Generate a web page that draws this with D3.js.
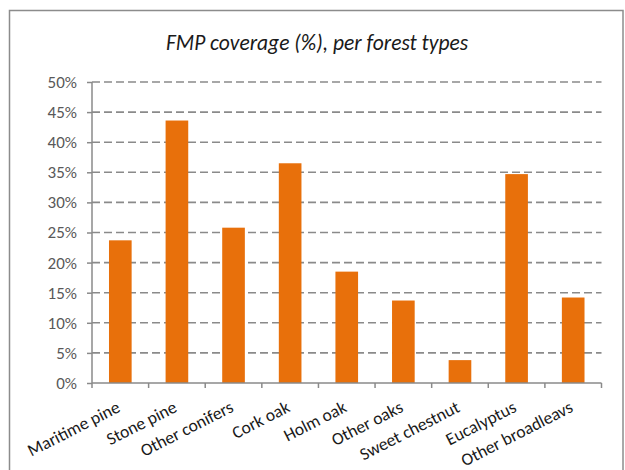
<!DOCTYPE html>
<html>
<head>
<meta charset="utf-8">
<script src="https://cdn.jsdelivr.net/npm/d3@7"></script>
<style>
  html, body { margin: 0; padding: 0; background: #fff; }
  svg { display: block; }
</style>
</head>
<body>
<svg id="chart" width="625" height="470"></svg>
<script>
const categories = ["Maritime pine", "Stone pine", "Other conifers", "Cork oak", "Holm oak", "Other oaks", "Sweet chestnut", "Eucalyptus", "Other broadleavs"];
const values = [23.7, 43.6, 25.8, 36.5, 18.5, 13.7, 3.8, 34.7, 14.2];
const yTicks = [0, 5, 10, 15, 20, 25, 30, 35, 40, 45, 50];
const title = "FMP coverage (%), per forest types";

const svg = d3.select("#chart");
const W = 625, H = 470;
const margin = { left: 92, right: 23.5, top: 82, bottom: 87 };
const x0 = margin.left, x1 = W - margin.right;
const yTop = margin.top, yBot = H - margin.bottom;

const font = "Carlito, Lato, 'Open Sans', sans-serif";

// outer border
svg.append("rect")
  .attr("x", 9.5).attr("y", 10.5)
  .attr("width", 613.5).attr("height", 470)
  .attr("fill", "#fff")
  .attr("stroke", "#8c8c8c").attr("stroke-width", 1.5);

// title
svg.append("text")
  .attr("x", 317).attr("y", 50)
  .attr("text-anchor", "middle")
  .attr("font-family", font)
  .attr("font-style", "italic")
  .attr("font-size", 21.5)
  .attr("fill", "#1a1a1a")
  .text(title);

const x = d3.scaleBand().domain(categories).range([x0, x1]).paddingInner(0.6).paddingOuter(0.3);
const y = d3.scaleLinear().domain([0, 50]).range([yBot, yTop]);

// gridlines
svg.append("g").selectAll("line")
  .data(yTicks.filter(d => d > 0))
  .join("line")
  .attr("x1", x0).attr("x2", x1)
  .attr("y1", d => y(d)).attr("y2", d => y(d))
  .attr("stroke", "#8a8a8a").attr("stroke-width", 1.6)
  .attr("stroke-dasharray", "8,4");

// bars
svg.append("g").selectAll("rect")
  .data(values)
  .join("rect")
  .attr("x", (d, i) => x(categories[i]))
  .attr("y", d => y(d))
  .attr("width", x.bandwidth())
  .attr("height", d => yBot - y(d))
  .attr("fill", "#e8700b");

// y axis
const yAxis = d3.axisLeft(y).tickValues(yTicks).tickSize(5).tickPadding(10).tickFormat(d => d + "%");
const gy = svg.append("g").attr("transform", `translate(${x0},0)`).call(yAxis);
gy.select(".domain").attr("stroke", "#8a8a8a").attr("stroke-width", 1.5).attr("d", `M0,${yTop}V${yBot}`);
gy.selectAll(".tick line").attr("stroke", "#8a8a8a").attr("stroke-width", 1.5);
gy.selectAll(".tick text").attr("font-family", font).attr("font-size", 17).attr("fill", "#595959");

// x axis with ticks at band boundaries
const boundaries = d3.range(categories.length + 1).map(i => x0 + i * (x1 - x0) / categories.length);
svg.append("line")
  .attr("x1", x0).attr("x2", x1).attr("y1", yBot).attr("y2", yBot)
  .attr("stroke", "#8a8a8a").attr("stroke-width", 1.5);
svg.append("g").selectAll("line")
  .data(boundaries)
  .join("line")
  .attr("x1", d => d).attr("x2", d => d)
  .attr("y1", yBot).attr("y2", yBot + 5)
  .attr("stroke", "#8a8a8a").attr("stroke-width", 1.5);

// x labels
svg.append("g").selectAll("text")
  .data(categories)
  .join("text")
  .attr("transform", d => `translate(${x(d) + x.bandwidth() / 2 + 1},${yBot + 28}) rotate(-27)`)
  .attr("text-anchor", "end")
  .attr("font-family", font)
  .attr("font-size", 17.5)
  .attr("fill", "#1a1a1a")
  .text(d => d);
</script>
</body>
</html>
